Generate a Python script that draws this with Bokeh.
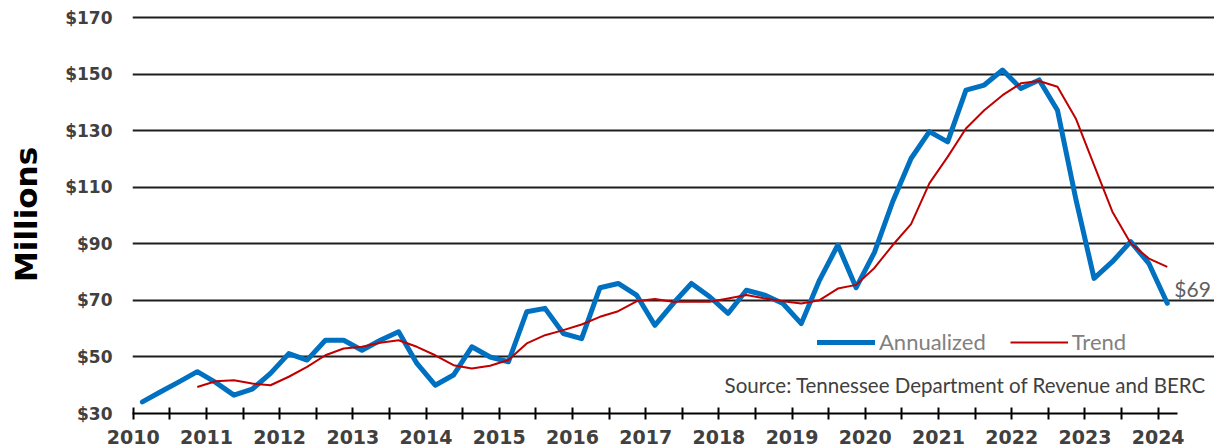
from bokeh.plotting import figure
from bokeh.models import FixedTicker, Legend, LegendItem, Label, Range1d, ColumnDataSource
from bokeh.embed import file_html
from bokeh.resources import INLINE

# ---- data ----
years = list(range(2010, 2025))
year_labels = [str(y) for y in years]
y_ticks = [30, 50, 70, 90, 110, 130, 150, 170]
y_tick_labels = ["$30", "$50", "$70", "$90", "$110", "$130", "$150", "$170"]

# quarterly periods 2010Q1 .. 2024Q1
quarters = [(y, q) for y in years for q in (1, 2, 3, 4)][:57]

annualized = [34.1, 37.7, 41.2, 44.8, 41.0, 36.5, 38.6, 44.2,
              51.2, 48.9, 55.9, 55.9, 52.4, 55.9, 58.9, 47.7,
              40.0, 43.6, 53.6, 50.0, 48.3, 66.0, 67.2, 58.3,
              56.5, 74.5, 76.0, 71.9, 61.2, 68.9, 76.0, 71.3,
              65.4, 73.6, 71.9, 68.9, 61.8, 77.2, 89.6, 74.5,
              87.0, 105.0, 120.2, 129.7, 126.1, 144.4, 146.2, 151.5,
              145.0, 148.0, 137.3, 106.0, 77.8, 83.7, 90.8, 83.0,
              69.0]

# 4-quarter trend, starts with 2010Q4
trend = [39.4, 41.4, 41.8, 40.6, 40.0, 43.0, 46.5, 50.6, 53.0,
         53.6, 55.0, 55.9, 53.6, 50.6, 47.1, 45.9, 46.9, 48.9,
         54.8, 57.7, 59.5, 61.5, 64.2, 66.2, 69.7, 70.5, 69.5,
         69.5, 69.5, 70.7, 71.9, 70.7, 69.7, 68.9, 70.1, 74.2,
         75.5, 81.5, 89.6, 97.0, 111.4, 120.8, 130.8, 137.3, 142.6,
         146.8, 147.6, 145.6, 134.4, 117.9, 101.4, 90.2, 84.8, 81.9]
trend_start = 3

last_label = "$69"
source_text = "Source: Tennessee Department of Revenue and BERC"

# ---- positions (mid-quarter) ----
qx = [y + (q - 0.5) / 4.0 for (y, q) in quarters]
src_a = ColumnDataSource(dict(x=qx, y=annualized))
src_t = ColumnDataSource(dict(x=qx[trend_start:trend_start + len(trend)], y=trend))

x_start, grid_end, x_end = 2009.99, 2024.26, 2024.77

p = figure(frame_width=1082, frame_height=398, output_backend="svg",
           toolbar_location=None,
           x_range=Range1d(x_start, x_end), y_range=Range1d(30, 170.8),
           min_border_left=132, min_border_right=0, min_border_top=15,
           min_border_bottom=33)
p.outline_line_color = None
p.background_fill_color = "white"

# grid
p.xgrid.visible = False
p.ygrid.ticker = FixedTicker(ticks=y_ticks)
p.ygrid.grid_line_color = "#1e1e1e"
p.ygrid.grid_line_width = 2
p.ygrid.bounds = (x_start, grid_end)

# y axis
ya = p.yaxis[0]
ya.ticker = FixedTicker(ticks=y_ticks)
ya.major_label_overrides = {t: l for t, l in zip(y_ticks, y_tick_labels)}
ya.axis_line_color = None
ya.major_tick_line_color = None
ya.minor_tick_line_color = None
ya.major_tick_out = 0
ya.major_tick_in = 0
ya.major_label_standoff = 20
ya.major_label_text_font = "DejaVu Sans"
ya.major_label_text_font_style = "bold"
ya.major_label_text_font_size = "17px"
ya.major_label_text_color = "#404040"
ya.axis_label = "Millions"
ya.axis_label_text_font = "DejaVu Sans"
ya.axis_label_text_font_style = "bold"
ya.axis_label_text_font_size = "31px"
ya.axis_label_text_color = "black"
ya.axis_label_standoff = 18

# x axis
xa = p.xaxis[0]
xa.bounds = (x_start, grid_end)
xa.ticker = FixedTicker(ticks=years, minor_ticks=[y + 0.5 for y in years[:-1]])
xa.major_label_overrides = {y: l for y, l in zip(years, year_labels)}
xa.axis_line_color = "black"
xa.axis_line_width = 2
xa.major_tick_line_color = "black"
xa.major_tick_line_width = 2
xa.minor_tick_line_color = "black"
xa.minor_tick_line_width = 2
xa.major_tick_in = 6
xa.major_tick_out = 6
xa.minor_tick_in = 6
xa.minor_tick_out = 6
xa.major_label_standoff = 10
xa.major_label_text_font = "DejaVu Sans"
xa.major_label_text_font_style = "bold"
xa.major_label_text_font_size = "19px"
xa.major_label_text_color = "#404040"

# lines
r_a = p.line("x", "y", source=src_a, line_color="#0070C0", line_width=5,
             line_join="round", line_cap="round")
r_t = p.line("x", "y", source=src_t, line_color="#C00000", line_width=2,
             line_join="round")

legend = Legend(items=[LegendItem(label="Annualized", renderers=[r_a]),
                       LegendItem(label="Trend", renderers=[r_t])],
                orientation="horizontal", location=(685, 58),
                glyph_width=58, glyph_height=24, label_standoff=4, spacing=24,
                padding=0, margin=0, border_line_color=None,
                background_fill_alpha=0,
                label_text_font="Lato", label_text_font_size="22px",
                label_text_color="#808080")
p.add_layout(legend, "center")

p.add_layout(Label(x=qx[-1], y=annualized[-1], x_offset=7, y_offset=15,
                   text=last_label, text_font="Lato", text_font_size="21px",
                   text_color="#606060", text_baseline="alphabetic"))
p.add_layout(Label(x=grid_end, y=30, x_offset=29, y_offset=29,
                   text=source_text, text_align="right", text_font="Lato",
                   text_font_size="20.5px", text_color="#404040",
                   text_baseline="alphabetic"))

open("out.html", "w").write(file_html(p, INLINE))
